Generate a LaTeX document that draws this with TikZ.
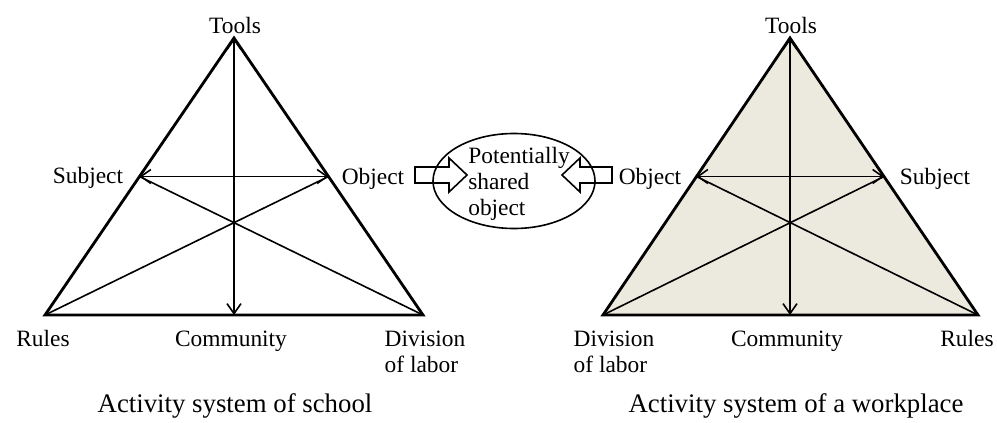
\documentclass[tikz,border=0pt]{standalone}
\usepackage{fontspec}
\setmainfont{Liberation Serif}
\usetikzlibrary{arrows.meta}
\usetikzlibrary{calc}
\usetikzlibrary{shapes.geometric}

\definecolor{workfill}{RGB}{236,233,222}

\begin{document}
\begin{tikzpicture}[x=0.5pt, y=-0.5pt,
		lbl/.style={font=\fontsize{11.7}{13}\selectfont, inner sep=0pt, anchor=base},
		caption/.style={font=\fontsize{13.4}{15}\selectfont, inner sep=0pt, anchor=base},
		rim/.style={line width=1.4pt, line join=miter},
		link/.style={line width=0.8pt},
		both/.style={link, {Straight Barb[length=5pt,width=7pt]}-{Straight Barb[length=5pt,width=7pt]}},
		block/.style={line width=0.8pt, line join=miter}]
		\useasboundingbox (0,0) rectangle (997,423);

		% school
		\coordinate (sTop) at (234,38);
		\coordinate (sRul) at (45,315);
		\coordinate (sDiv) at (423,315);
		\coordinate (sSub) at ($(sTop)!0.5!(sRul)$);
		\coordinate (sObj) at ($(sTop)!0.5!(sDiv)$);
		\coordinate (sCom) at (234,315);
		\draw[rim] (sTop) -- (sDiv) -- (sRul) -- cycle;
		\draw[both] (sSub) -- (sObj);
		\draw[both] (sTop) -- (sCom);
		\draw[link] (sSub) -- (sDiv);
		\draw[link] (sObj) -- (sRul);

		% workplace
		\coordinate (wTop) at (790,38);
		\coordinate (wDiv) at (603,315);
		\coordinate (wRul) at (978,315);
		\coordinate (wObj) at ($(wTop)!0.5!(wDiv)$);
		\coordinate (wSub) at ($(wTop)!0.5!(wRul)$);
		\coordinate (wCom) at (790,315);
		\fill[workfill] (wTop) -- (wRul) -- (wDiv) -- cycle;
		\draw[rim] (wTop) -- (wRul) -- (wDiv) -- cycle;
		\draw[both] (wObj) -- (wSub);
		\draw[both] (wTop) -- (wCom);
		\draw[link] (wObj) -- (wRul);
		\draw[link] (wSub) -- (wDiv);

		% labels (two-line ones sit on their last baseline)
		\node[lbl] (sTools) at (235,33) {Tools};
		\node[lbl] (sSubject) at (88,183) {Subject};
		\node[lbl] (sObject) at (373,184) {Object};
		\node[lbl] (sRules) at (43,346) {Rules};
		\node[lbl] (sCommunity) at (231,346) {Community};
		\node[lbl, align=left] (sDivision) at (425,372) {Division\\of labor};
		\node[lbl] (wTools) at (791,33) {Tools};
		\node[lbl] (wObject) at (650,184) {Object};
		\node[lbl] (wSubject) at (935,184) {Subject};
		\node[lbl, align=left] (wDivision) at (614,372) {Division\\of labor};
		\node[lbl] (wCommunity) at (787,346) {Community};
		\node[lbl] (wRules) at (967,346) {Rules};
		\node[caption] (sCaption) at (235,412) {Activity system of school};
		\node[caption] (wCaption) at (796,412) {Activity system of a workplace};

		% shared object in the middle
		\node[draw, ellipse, line width=0.8pt, minimum width=81pt, minimum height=47.5pt] (shared) at (514,181) {};
		\node[lbl, anchor=center, align=left] (sharedText) at (519,184) {Potentially\\shared\\object};
		\draw[block] (415,167) -- (449,167) -- (449,158) -- (467,175) -- (449,192) -- (449,183) -- (415,183) -- cycle;
		\draw[block] (612,167) -- (580,167) -- (580,158) -- (562,175) -- (580,192) -- (580,183) -- (612,183) -- cycle;
	\end{tikzpicture}
\end{document}
